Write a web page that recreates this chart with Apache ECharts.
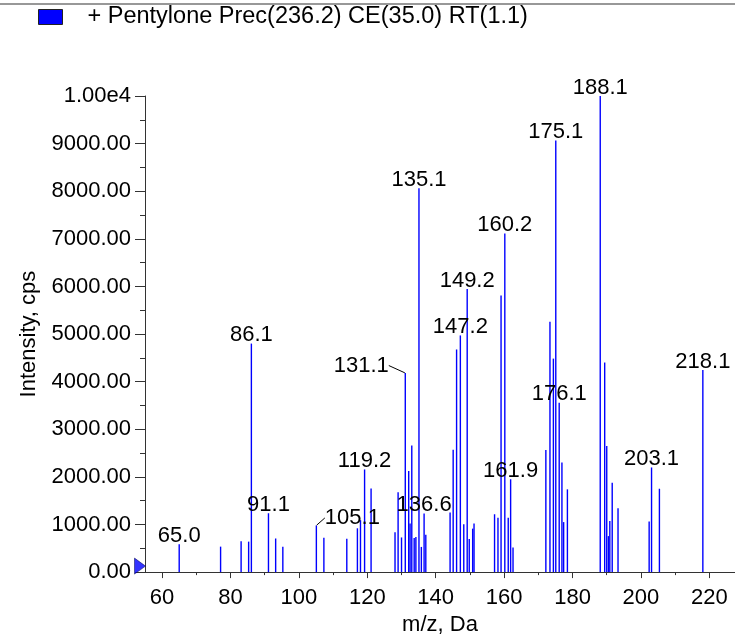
<!DOCTYPE html>
<html>
<head>
<meta charset="utf-8">
<script src="https://cdn.jsdelivr.net/npm/echarts/dist/echarts.min.js"></script>
<style>
html,body{margin:0;padding:0;background:#fff;}
#chart{width:735px;height:641px;}
</style>
</head>
<body>
<div id="chart"></div>
<script>
const seriesName = '+ Pentylone Prec(236.2) CE(35.0) RT(1.1)';

const mzValues = [
  65.0, 77.1, 83.1, 85.3, 86.1, 91.1, 93.2, 95.3, 105.1, 107.3,
  114.0, 117.1, 118.0, 119.2, 121.1, 128.1, 129.0, 130.0, 131.1, 132.1,
  132.5, 133.0, 133.7, 134.2, 135.1, 135.8, 136.6, 137.1, 144.2, 145.1,
  146.1, 147.2, 148.2, 149.2, 149.8, 150.8, 151.2, 157.2, 158.2, 159.1,
  160.2, 161.2, 161.9, 162.6, 172.2, 173.4, 174.4, 175.1, 176.1, 176.9,
  177.4, 178.5, 188.1, 189.4, 190.0, 190.5, 190.9, 191.6, 193.3, 202.4,
  203.1, 205.4, 218.1
];
const intensities = [
  583, 535, 650, 640, 4800, 1236, 706, 535, 980, 720,
  700, 920, 1090, 2156, 1757, 838, 1675, 728, 4181, 2122,
  1023, 2657, 714, 735, 8060, 529, 1229, 783, 1250, 2568,
  4676, 4971, 1003, 5946, 694, 913, 1023, 1215, 1140, 5808,
  7113, 1140, 1950, 515, 2562, 5260, 4484, 9063, 3557, 2300,
  1050, 1738, 10000, 4402, 2651, 756, 1071, 1875, 1339, 1065,
  2198, 1751, 4243
];
const labeledMz = [65.0, 86.1, 91.1, 105.1, 119.2, 131.1, 135.1, 136.6, 147.2, 149.2,
  160.2, 161.9, 175.1, 176.1, 188.1, 203.1, 218.1];

const xMin = 55, xMax = 227.5;
const xMajorTicks = [60, 80, 100, 120, 140, 160, 180, 200, 220];
const xMinorTicks = [70, 90, 110, 130, 150, 170, 190, 210];
const yMin = 0, yMax = 10000, yInterval = 1000;

// label shifts (pixels) for labels moved aside with a leader line
const labelShift = {'131.1': [-44, 1], '105.1': [36, 1]};

const FONT = '"Liberation Sans", Arial, Helvetica, sans-serif';
const PEAK_COLOR = '#0000ff';

const stickData = mzValues.map((m, i) => [m, intensities[i]]);
const labelData = labeledMz.map(m => {
  const i = mzValues.indexOf(m);
  const shifted = labelShift[m.toFixed(1)];
  return {
    value: [m, intensities[i]],
    labelLine: {show: !!shifted}
  };
});

const chart = echarts.init(document.getElementById('chart'), null, {renderer: 'canvas', devicePixelRatio: 1});
chart.setOption({
  animation: false,
  backgroundColor: '#fff',
  textStyle: {fontFamily: FONT},
  color: [PEAK_COLOR],
  graphic: [{
    type: 'line', shape: {x1: 0, y1: 4, x2: 735, y2: 4},
    style: {stroke: '#333', lineWidth: 1.2}, silent: true
  }],
  legend: {
    data: [{name: seriesName, itemStyle: {color: PEAK_COLOR, borderColor: '#222', borderWidth: 1}}],
    left: 33, top: 0,
    icon: 'rect', itemWidth: 24, itemHeight: 15,
    textStyle: {fontSize: 23.5, color: '#000', fontFamily: FONT, padding: [0, 0, 0, 20]},
    selectedMode: false
  },
  grid: {left: 145, right: 0, top: 96, bottom: 58, containLabel: false},
  xAxis: [{
    type: 'value', min: xMin, max: xMax,
    name: 'm/z, Da', nameLocation: 'middle', nameGap: 38,
    nameTextStyle: {fontSize: 22, color: '#000', fontFamily: FONT},
    axisLine: {lineStyle: {color: '#333', width: 1}},
    axisTick: {show: true, length: 6, customValues: xMajorTicks, lineStyle: {color: '#333'}},
    axisLabel: {customValues: xMajorTicks, fontSize: 22, color: '#000', margin: 15, fontFamily: FONT},
    splitLine: {show: false}
  }, {
    type: 'value', min: xMin, max: xMax, position: 'bottom',
    axisLine: {show: false},
    axisTick: {show: true, length: 3, customValues: xMinorTicks, lineStyle: {color: '#333'}},
    axisLabel: {show: false},
    splitLine: {show: false}
  }],
  yAxis: {
    type: 'value', min: yMin, max: yMax, interval: yInterval,
    name: 'Intensity, cps', nameLocation: 'middle', nameGap: 105,
    nameTextStyle: {fontSize: 22, color: '#000', fontFamily: FONT},
    axisLine: {show: true, lineStyle: {color: '#333', width: 1}},
    axisTick: {show: true, length: 10, lineStyle: {color: '#333'}},
    minorTick: {show: true, splitNumber: 2, length: 5, lineStyle: {color: '#333'}},
    axisLabel: {
      fontSize: 22, color: '#000', margin: 14, fontFamily: FONT,
      formatter: v => v === 10000 ? '1.00e4' : v.toFixed(2)
    },
    splitLine: {show: false}
  },
  series: [{
    name: seriesName,
    type: 'custom',
    xAxisIndex: 0,
    data: stickData,
    encode: {x: 0, y: 1},
    renderItem: (params, api) => {
      const top = api.coord([api.value(0), api.value(1)]);
      const base = api.coord([api.value(0), 0]);
      return {
        type: 'line',
        shape: {x1: top[0], y1: top[1], x2: base[0], y2: base[1]},
        style: {stroke: PEAK_COLOR, lineWidth: 1.4}
      };
    },
    emphasis: {disabled: true},
    silent: true
  }, {
    name: 'labels',
    type: 'scatter',
    xAxisIndex: 0,
    data: labelData,
    symbol: 'circle', symbolSize: 1,
    itemStyle: {color: 'rgba(0,0,0,0)'},
    label: {
      show: true, position: 'top', distance: -3, opacity: 1,
      formatter: p => p.value[0].toFixed(1),
      fontSize: 22, color: '#000', fontFamily: FONT
    },
    labelLine: {show: false, lineStyle: {color: '#000', width: 1}},
    labelLayout: p => {
      const key = labeledMz[p.dataIndex].toFixed(1);
      const s = labelShift[key];
      return s ? {dx: s[0], dy: s[1]} : {};
    },
    emphasis: {disabled: true},
    silent: true,
    z: 5
  }, {
    name: 'origin',
    type: 'scatter',
    xAxisIndex: 0,
    data: [[xMin, 0]],
    symbol: 'path://M0,0 L10,7 L0,14 Z',
    symbolSize: [11, 16],
    symbolOffset: [-5, -6],
    itemStyle: {color: PEAK_COLOR, borderColor: '#000044', borderWidth: 0.6},
    clip: false,
    silent: true,
    z: 6
  }]
});
</script>
</body>
</html>
